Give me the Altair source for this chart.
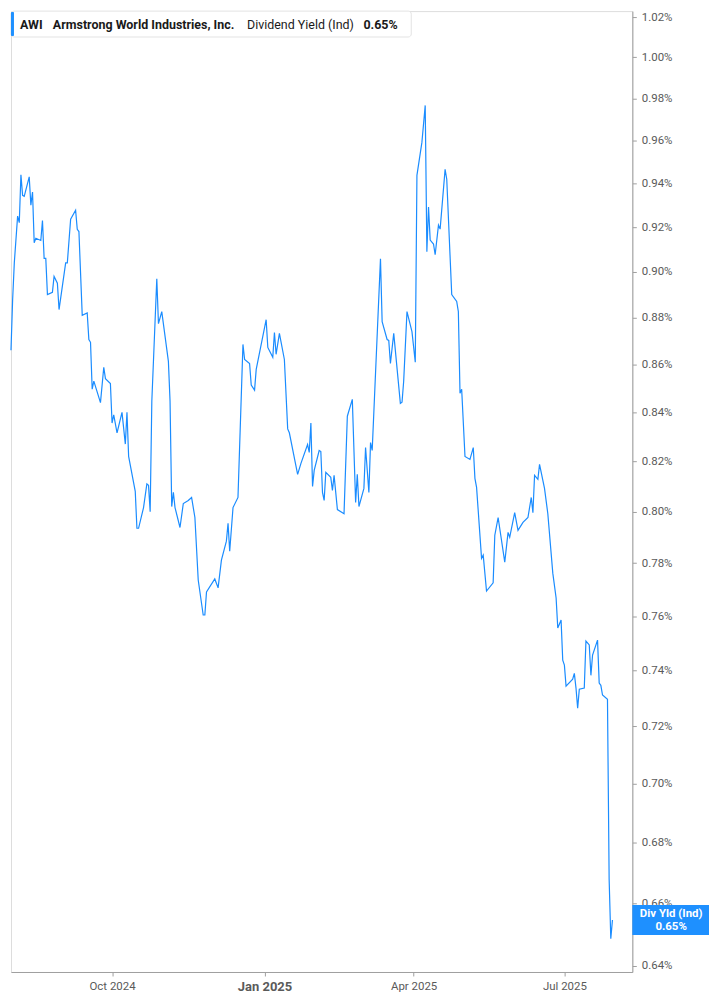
import altair as alt
import pandas as pd

# ---- data ----
dates = [
    "2024-08-01", "2024-08-02", "2024-08-03", "2024-08-05", "2024-08-06", "2024-08-07", "2024-08-08", "2024-08-09",
    "2024-08-12", "2024-08-13", "2024-08-14", "2024-08-15", "2024-08-16", "2024-08-19", "2024-08-20", "2024-08-21",
    "2024-08-22", "2024-08-23", "2024-08-26", "2024-08-27", "2024-08-29", "2024-08-30", "2024-09-03", "2024-09-04",
    "2024-09-06", "2024-09-09", "2024-09-10", "2024-09-11", "2024-09-13", "2024-09-16", "2024-09-17", "2024-09-18",
    "2024-09-19", "2024-09-20", "2024-09-24", "2024-09-26", "2024-09-27", "2024-09-30", "2024-10-01", "2024-10-02",
    "2024-10-04", "2024-10-07", "2024-10-09", "2024-10-10", "2024-10-11", "2024-10-15", "2024-10-16", "2024-10-17",
    "2024-10-20", "2024-10-22", "2024-10-23", "2024-10-24", "2024-10-25", "2024-10-28", "2024-10-29", "2024-10-31",
    "2024-11-04", "2024-11-05", "2024-11-06", "2024-11-07", "2024-11-08", "2024-11-11", "2024-11-13", "2024-11-16",
    "2024-11-18", "2024-11-20", "2024-11-22", "2024-11-25", "2024-11-26", "2024-11-27", "2024-12-02", "2024-12-04",
    "2024-12-06", "2024-12-09", "2024-12-10", "2024-12-11", "2024-12-13", "2024-12-16", "2024-12-19", "2024-12-20",
    "2024-12-23", "2024-12-24", "2024-12-26", "2024-12-27", "2025-01-02", "2025-01-03", "2025-01-06", "2025-01-07",
    "2025-01-08", "2025-01-10", "2025-01-13", "2025-01-15", "2025-01-16", "2025-01-21", "2025-01-23", "2025-01-27",
    "2025-01-28", "2025-01-29", "2025-01-30", "2025-01-31", "2025-02-03", "2025-02-04", "2025-02-05", "2025-02-06",
    "2025-02-07", "2025-02-10", "2025-02-11", "2025-02-12", "2025-02-14", "2025-02-18", "2025-02-20", "2025-02-23",
    "2025-02-25", "2025-02-26", "2025-02-27", "2025-03-02", "2025-03-03", "2025-03-05", "2025-03-06", "2025-03-07",
    "2025-03-12", "2025-03-13", "2025-03-16", "2025-03-17", "2025-03-18", "2025-03-20", "2025-03-24", "2025-03-25",
    "2025-03-26", "2025-03-28", "2025-03-31", "2025-04-02", "2025-04-03", "2025-04-06", "2025-04-08", "2025-04-09",
    "2025-04-10", "2025-04-11", "2025-04-13", "2025-04-14", "2025-04-16", "2025-04-17", "2025-04-20", "2025-04-21",
    "2025-04-24", "2025-04-27", "2025-04-28", "2025-04-29", "2025-04-30", "2025-05-02", "2025-05-05", "2025-05-07",
    "2025-05-08", "2025-05-09", "2025-05-12", "2025-05-13", "2025-05-15", "2025-05-19", "2025-05-20", "2025-05-22",
    "2025-05-26", "2025-05-28", "2025-05-29", "2025-06-01", "2025-06-03", "2025-06-06", "2025-06-09", "2025-06-11",
    "2025-06-12", "2025-06-13", "2025-06-15", "2025-06-16", "2025-06-19", "2025-06-21", "2025-06-24", "2025-06-26",
    "2025-06-27", "2025-06-29", "2025-06-30", "2025-07-01", "2025-07-02", "2025-07-06", "2025-07-07", "2025-07-08",
    "2025-07-09", "2025-07-10", "2025-07-13", "2025-07-14", "2025-07-16", "2025-07-17", "2025-07-18", "2025-07-21",
    "2025-07-22", "2025-07-23", "2025-07-24", "2025-07-27", "2025-07-28", "2025-07-29", "2025-07-30",
]
div_yield = [
    0.866, 0.888, 0.904, 0.925, 0.922, 0.944, 0.9345, 0.934,
    0.943, 0.930, 0.936, 0.913, 0.915, 0.914, 0.923, 0.906,
    0.906, 0.890, 0.891, 0.898, 0.895, 0.8835, 0.904, 0.904,
    0.9236, 0.9277, 0.919, 0.918, 0.881, 0.882, 0.8706, 0.8694,
    0.8496, 0.853, 0.844, 0.8588, 0.854, 0.852, 0.8356, 0.839,
    0.8316, 0.840, 0.827, 0.840, 0.822, 0.808, 0.7935, 0.7935,
    0.8016, 0.811, 0.8104, 0.800, 0.8446, 0.897, 0.8774, 0.8826,
    0.8613, 0.8446, 0.802, 0.8076, 0.8016, 0.7938, 0.8032, 0.8044,
    0.8056, 0.7977, 0.7736, 0.7604, 0.7604, 0.7691, 0.774, 0.7706,
    0.7812, 0.7885, 0.7954, 0.7846, 0.8016, 0.8056, 0.8685, 0.8621,
    0.8604, 0.8513, 0.8492, 0.8579, 0.8791, 0.8672, 0.863, 0.8736,
    0.8643, 0.8732, 0.8621, 0.8332, 0.8316, 0.8148, 0.8192, 0.8268,
    0.8236, 0.8356, 0.810, 0.8164, 0.8244, 0.824, 0.8076, 0.8044,
    0.8156, 0.8136, 0.8084, 0.8144, 0.8008, 0.7992, 0.8384, 0.8454,
    0.8036, 0.8148, 0.802, 0.8092, 0.8256, 0.8076, 0.8276, 0.8244,
    0.9058, 0.8783, 0.8706, 0.8702, 0.8604, 0.8732, 0.8437, 0.8442,
    0.8529, 0.8826, 0.874, 0.8609, 0.9437, 0.9591, 0.9767, 0.9089,
    0.9291, 0.9142, 0.9124, 0.9076, 0.9209, 0.9191, 0.9465, 0.9419,
    0.890, 0.887, 0.8826, 0.8479, 0.8496, 0.822, 0.8208, 0.8256,
    0.8132, 0.8096, 0.7819, 0.7831, 0.7694, 0.7725, 0.7908, 0.7977,
    0.7804, 0.7919, 0.790, 0.7996, 0.7927, 0.7958, 0.7977, 0.8056,
    0.7996, 0.8144, 0.8128, 0.8188, 0.8092, 0.7992, 0.7762, 0.7668,
    0.7556, 0.7585, 0.7437, 0.7419, 0.7343, 0.7368, 0.7389, 0.7336,
    0.7264, 0.7332, 0.7336, 0.7507, 0.7493, 0.7382, 0.7456, 0.7511,
    0.7354, 0.7346, 0.7311, 0.7296, 0.6679, 0.6486, 0.6546,
]
y_tick_values = [0.64, 0.66, 0.68, 0.70, 0.72, 0.74, 0.76, 0.78, 0.80, 0.82,
                 0.84, 0.86, 0.88, 0.90, 0.92, 0.94, 0.96, 0.98, 1.00, 1.02]
header_ticker = "AWI"
header_name = "Armstrong World Industries, Inc."
header_metric = "Dividend Yield (Ind)"
header_value = "0.65%"
badge_line1 = "Div Yld (Ind)"
badge_line2 = "0.65%"

LINE_BLUE = "#1a8cff"
BADGE_BLUE = "#1e90ff"
AXIS_GRAY = "#9e9e9e"
LABEL_GRAY = "#5a5a5a"
FONT = "Roboto"

df = pd.DataFrame({"date": pd.to_datetime(dates), "dy": div_yield})
last_df = df.tail(1)
one = pd.DataFrame({"k": [0]})

x_scale = alt.Scale(domain=[alt.DateTime(year=2024, month=8, date=1),
                            alt.DateTime(year=2025, month=8, date=11)])
y_scale = alt.Scale(type="log", domain=[0.6381, 1.023], nice=False)

x_axis = alt.Axis(
    values=[alt.DateTime(year=2024, month=10, date=1), alt.DateTime(year=2025, month=1, date=1),
            alt.DateTime(year=2025, month=4, date=1), alt.DateTime(year=2025, month=7, date=1)],
    labelExpr="timeFormat(datum.value, '%b %Y')",
    grid=False, title=None, domainColor=AXIS_GRAY, tickColor=AXIS_GRAY, tickSize=4,
    labelColor=LABEL_GRAY, labelFont=FONT, labelPadding=5,
    labelFontSize={"condition": {"test": "month(datum.value) == 0", "value": 13}, "value": 11.5},
    labelFontWeight={"condition": {"test": "month(datum.value) == 0", "value": "bold"}, "value": "normal"},
)
y_axis = alt.Axis(
    orient="right", values=y_tick_values,
    format=".2f", labelExpr="datum.label + '%'",
    grid=False, title=None, domainColor=AXIS_GRAY, tickColor=AXIS_GRAY, tickSize=4,
    labelColor=LABEL_GRAY, labelFont=FONT, labelFontSize=11.5, labelPadding=5,
    labelOverlap=False, tickCount=40,
)

line = alt.Chart(df).mark_line(color=LINE_BLUE, strokeWidth=1.2).encode(
    x=alt.X("date:T", scale=x_scale, axis=x_axis),
    y=alt.Y("dy:Q", scale=y_scale, axis=y_axis),
)

badge = alt.Chart(last_df).mark_rect(color=BADGE_BLUE, height=30).encode(
    x=alt.value(624), x2=alt.value(701),
    y=alt.Y("dy:Q"),
)
badge_t1 = alt.Chart(last_df).mark_text(
    text=badge_line1, color="white", font=FONT, fontSize=11.5, fontWeight="bold", dy=-6, align="center"
).encode(x=alt.value(663), y=alt.Y("dy:Q"))
badge_t2 = alt.Chart(last_df).mark_text(
    text=badge_line2, color="white", font=FONT, fontSize=11.5, fontWeight="bold", dy=7, align="center"
).encode(x=alt.value(663), y=alt.Y("dy:Q"))

hdr_box = alt.Chart(one).mark_rect(fill="white", stroke="#e3e3e3", strokeWidth=1, cornerRadius=3).encode(
    x=alt.value(0), x2=alt.value(402), y=alt.value(0), y2=alt.value(26))
hdr_bar = alt.Chart(one).mark_rect(fill=BADGE_BLUE, cornerRadius=1).encode(
    x=alt.value(0), x2=alt.value(3), y=alt.value(1), y2=alt.value(25))

def hdr_text(txt, xpos, weight):
    return alt.Chart(one).mark_text(
        text=txt, font=FONT, fontSize=12.5, fontWeight=weight, color="#1a1a1a",
        align="left", baseline="middle"
    ).encode(x=alt.value(xpos), y=alt.value(13.5))

chart = alt.layer(
    line, badge, badge_t1, badge_t2, hdr_box, hdr_bar,
    hdr_text(header_ticker, 9, "bold"),
    hdr_text(header_name, 42, "bold"),
    hdr_text(header_metric, 237, "normal"),
    hdr_text(header_value, 354, "bold"),
).properties(
    width=624, height=965,
    padding={"left": 0, "top": 0, "right": 0, "bottom": 0},
).configure_view(strokeWidth=0).configure(background="white")

chart.save("out.html", embed_options={"renderer": "svg", "actions": False})
